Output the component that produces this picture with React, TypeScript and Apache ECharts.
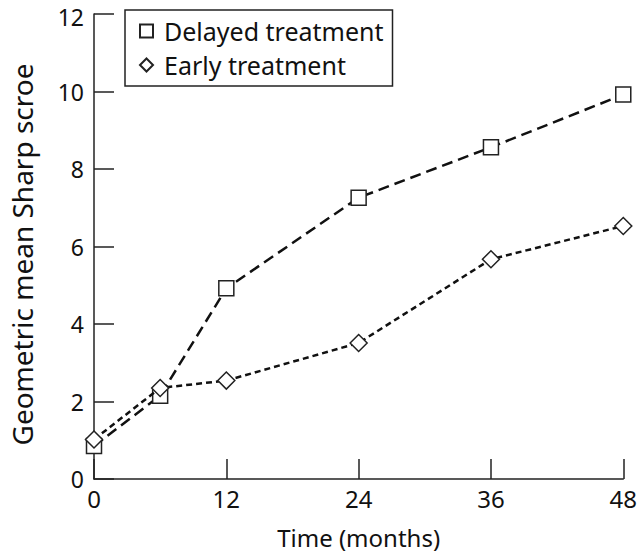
import React, { useEffect, useRef } from "react";
import * as echarts from "echarts";

const months = [0, 6, 12, 24, 36, 48];
const delayed = [0.85, 2.15, 4.92, 7.26, 8.56, 9.92];
const early = [1.02, 2.35, 2.54, 3.51, 5.67, 6.53];
const seriesNames = ["Delayed treatment", "Early treatment"];
const xTitle = "Time (months)";
const yTitle = "Geometric mean Sharp scroe";

const FONT = "Noto Sans";

export default function App() {
  const ref = useRef<HTMLDivElement>(null);
  useEffect(() => {
    if (!ref.current) return;
    const chart = echarts.init(ref.current, undefined, { renderer: "svg" });
    const axisLine = { show: true, onZero: false, lineStyle: { color: "#222", width: 1.5 } };
    chart.setOption({
      animation: false,
      backgroundColor: "#fff",
      grid: { left: 92.5, right: 14, top: 12, bottom: 77 },
      legend: {
        left: 125,
        top: 10,
        orient: "vertical",
        borderColor: "#222",
        borderWidth: 1.5,
        padding: [8, 9, 8, 14],
        itemWidth: 13,
        itemHeight: 13,
        itemGap: 8,
        textStyle: { fontFamily: FONT, fontSize: 25, color: "#111", lineHeight: 26, padding: [0, 0, 0, 6] },
        data: [
          { name: seriesNames[0], icon: "rect" },
          { name: seriesNames[1], icon: "diamond" },
        ],
      },
      xAxis: {
        type: "value",
        min: 0,
        max: 48,
        interval: 12,
        axisLine,
        axisTick: { show: true, inside: true, length: 20, lineStyle: { color: "#222", width: 1.5 } },
        splitLine: { show: false },
        axisLabel: { fontFamily: FONT, fontSize: 24, color: "#111", margin: 7, lineHeight: 24 },
        name: xTitle,
        nameLocation: "middle",
        nameGap: 46,
        nameTextStyle: { fontFamily: FONT, fontSize: 24, color: "#111", lineHeight: 24 },
      },
      yAxis: {
        type: "value",
        min: 0,
        max: 12,
        interval: 2,
        axisLine,
        axisTick: { show: true, inside: true, length: 20, lineStyle: { color: "#222", width: 1.5 } },
        splitLine: { show: false },
        axisLabel: {
          fontFamily: FONT,
          fontSize: 23,
          color: "#111",
          margin: 10,
          lineHeight: 18,
          formatter: (v: number) => (v === 12 ? "{top|" + v + "}" : String(v)),
          rich: { top: { fontFamily: FONT, fontSize: 23, color: "#111", lineHeight: 18, padding: [5, 0, 0, 0] } },
        },
        name: yTitle,
        nameLocation: "middle",
        nameGap: 58,
        nameTextStyle: { fontFamily: FONT, fontSize: 28, color: "#111", lineHeight: 28, padding: [0, 16, 0, 0] },
      },
      series: [
        {
          name: seriesNames[0],
          type: "line",
          data: months.map((m, i) => [m, delayed[i]]),
          symbol: "rect",
          symbolSize: 15,
          lineStyle: { color: "#111", width: 2.5, type: [11, 6] },
          itemStyle: { color: "#fff", borderColor: "#222", borderWidth: 1.5 },
          z: 3,
        },
        {
          name: seriesNames[1],
          type: "line",
          data: months.map((m, i) => [m, early[i]]),
          symbol: "diamond",
          symbolSize: 17,
          lineStyle: { color: "#111", width: 2.5, type: [6, 4] },
          itemStyle: { color: "#fff", borderColor: "#222", borderWidth: 1.5 },
          z: 4,
        },
      ],
    });
    return () => chart.dispose();
  }, []);
  return <div ref={ref} style={{ width: 640, height: 556, position: "absolute", left: 0, top: 0 }} />;
}
